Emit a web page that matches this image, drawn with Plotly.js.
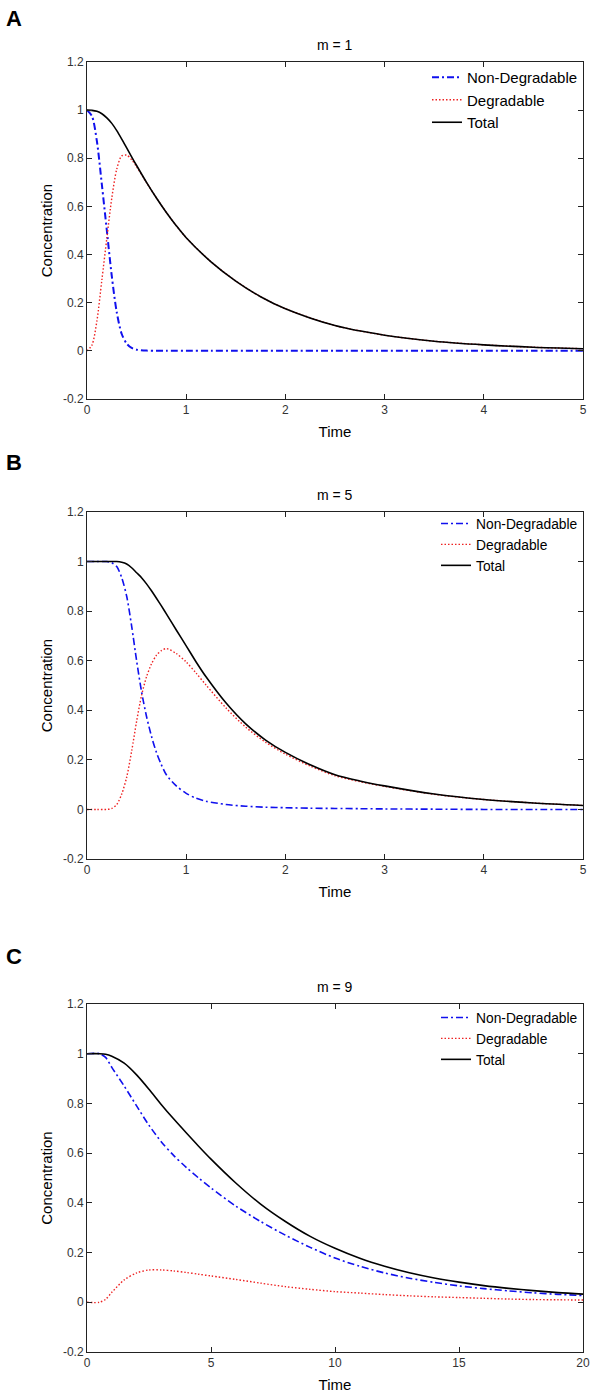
<!DOCTYPE html>
<html>
<head>
<meta charset="utf-8">
<script src="https://cdn.plot.ly/plotly-3.0.1.min.js"></script>
<style>html,body{margin:0;padding:0;background:#fff;}#chart{width:592px;height:1394px;}</style>
</head>
<body>
<div id="chart"></div>
<script>
// ---------- data ----------
const seriesNames = ['Non-Degradable', 'Degradable', 'Total'];
const panelTitles = ['m = 1', 'm = 5', 'm = 9'];
const panelLetters = ['A', 'B', 'C'];

// Panel A (m = 1)
const timeA = [0,0.05,0.1,0.15,0.2,0.25,0.3,0.35,0.4,0.45,0.5,0.6,0.7,0.8,0.9,1,1.25,1.5,1.75,2,2.5,3,3.5,4,4.5,5];
const nonDegA = [1,0.975,0.87,0.69,0.5,0.31,0.16,0.07,0.03,0.012,0.005,0.001,0,0,0,0,0,0,0,0,0,0,0,0,0,0];
const degA = [0,0.024,0.125,0.295,0.468,0.635,0.755,0.81,0.813,0.794,0.765,0.699,0.635,0.575,0.52,0.47,0.37,0.29,0.225,0.175,0.105,0.065,0.04,0.025,0.015,0.009];
const totalA = [1,0.999,0.995,0.985,0.968,0.945,0.915,0.88,0.843,0.806,0.77,0.7,0.635,0.575,0.52,0.47,0.37,0.29,0.225,0.175,0.105,0.065,0.04,0.025,0.015,0.009];

// Panel B (m = 5)
const timeB = [0,0.1,0.2,0.25,0.3,0.35,0.4,0.45,0.5,0.55,0.6,0.65,0.7,0.75,0.8,0.9,1.0,1.1,1.2,1.4,1.6,1.8,2.0,2.25,2.5,2.75,3,3.5,4,4.5,5];
const nonDegB = [1,1,1,0.995,0.98,0.935,0.86,0.74,0.6,0.475,0.375,0.295,0.23,0.18,0.14,0.095,0.065,0.045,0.033,0.02,0.013,0.009,0.007,0.005,0.004,0.003,0.002,0.001,0,0,0];
const degB = [0,0,0,0.004,0.02,0.062,0.13,0.235,0.355,0.46,0.535,0.587,0.622,0.641,0.649,0.629,0.595,0.55,0.502,0.41,0.332,0.271,0.223,0.175,0.136,0.112,0.093,0.061,0.04,0.026,0.016];
const totalB = [1,1,1,1,1,0.997,0.99,0.975,0.955,0.935,0.91,0.882,0.852,0.821,0.789,0.724,0.66,0.595,0.535,0.43,0.345,0.28,0.23,0.18,0.14,0.115,0.095,0.062,0.04,0.026,0.016];

// Panel C (m = 9)
const timeC = [0,0.5,0.75,1,1.5,2,2.5,3,3.5,4,4.5,5,6,7,8,9,10,11,12,13,14,15,16,17,18,19,20];
const nonDegC = [1,1,0.985,0.945,0.87,0.79,0.712,0.645,0.59,0.543,0.5,0.46,0.387,0.325,0.27,0.221,0.178,0.145,0.118,0.097,0.08,0.066,0.055,0.046,0.038,0.032,0.027];
const degC = [0,0,0.012,0.04,0.09,0.118,0.13,0.13,0.126,0.12,0.113,0.106,0.092,0.077,0.063,0.052,0.043,0.037,0.031,0.026,0.022,0.019,0.016,0.013,0.011,0.01,0.009];
const totalC = [1,1,0.998,0.99,0.962,0.915,0.857,0.795,0.737,0.682,0.628,0.576,0.48,0.395,0.325,0.265,0.217,0.177,0.145,0.119,0.098,0.081,0.067,0.056,0.047,0.039,0.033];

// axis ticks
const yTickVals = [-0.2,0,0.2,0.4,0.6,0.8,1,1.2];
const yTickText = ['-0.2','0','0.2','0.4','0.6','0.8','1','1.2'];
const xTickValsAB = [0,1,2,3,4,5];
const xTickTextAB = ['0','1','2','3','4','5'];
const xTickValsC = [0,5,10,15,20];
const xTickTextC = ['0','5','10','15','20'];
const xLabel = 'Time';
const yLabel = 'Concentration';

// ---------- layout helpers ----------
const W = 592, H = 1394;
const M = {l: 87, r: 9, t: 62, b: 42};
const paperH = H - M.t - M.b;
const py = p => (H - M.b - p) / paperH;          // pixel y -> paper y
const FONT = '"Liberation Sans", Arial, Helvetica, sans-serif';

const panels = [
  {t: timeA, n: nonDegA, d: degA, tot: totalA, top: 62,   bot: 399,  xr: [0,5],  tv: xTickValsAB, tt: xTickTextAB, lw: 2.0, lf: 15, legTop: 61},
  {t: timeB, n: nonDegB, d: degB, tot: totalB, top: 512,  bot: 859,  xr: [0,5],  tv: xTickValsAB, tt: xTickTextAB, lw: 1.6, lf: 13.8, legTop: 508},
  {t: timeC, n: nonDegC, d: degC, tot: totalC, top: 1004, bot: 1352, xr: [0,20], tv: xTickValsC,  tt: xTickTextC,  lw: 1.6, lf: 13.8, legTop: 1002}
];

const traces = [];
const layout = {
  width: W, height: H,
  margin: {l: M.l, r: M.r, t: M.t, b: M.b},
  paper_bgcolor: '#fff', plot_bgcolor: '#fff',
  font: {family: FONT, color: '#000'},
  annotations: [],
  showlegend: true
};

panels.forEach((p, i) => {
  const k = i === 0 ? '' : String(i + 1);
  const xa = 'x' + k, ya = 'y' + k;
  const leg = 'legend' + k;
  traces.push({x: p.t, y: p.n, name: seriesNames[0], type: 'scatter', mode: 'lines', xaxis: xa, yaxis: ya, legend: leg,
    line: {color: '#1010ee', width: p.lw, dash: '7px,3px,2px,3px', shape: 'spline', smoothing: 0.8}});
  traces.push({x: p.t, y: p.d, name: seriesNames[1], type: 'scatter', mode: 'lines', xaxis: xa, yaxis: ya, legend: leg,
    line: {color: '#ee2222', width: 1.4, dash: '1.5px,2px', shape: 'spline', smoothing: 0.8}});
  traces.push({x: p.t, y: p.tot, name: seriesNames[2], type: 'scatter', mode: 'lines', xaxis: xa, yaxis: ya, legend: leg,
    line: {color: '#000', width: 1.6, shape: 'spline', smoothing: 0.8}});

  const axCommon = {
    showline: true, linecolor: '#222', linewidth: 1, mirror: 'ticks',
    ticks: 'inside', ticklen: 5, tickcolor: '#222', tickwidth: 1,
    showgrid: false, zeroline: false, fixedrange: true,
    tickfont: {family: FONT, size: 12, color: '#333'}
  };
  layout['xaxis' + k] = Object.assign({}, axCommon, {
    anchor: ya, domain: [0, 1], range: p.xr, tickmode: 'array', tickvals: p.tv, ticktext: p.tt,
    title: {text: xLabel, font: {family: FONT, size: 15, color: '#000'}, standoff: 10}
  });
  layout['yaxis' + k] = Object.assign({}, axCommon, {
    anchor: xa, domain: [py(p.bot), py(p.top)], range: [-0.2, 1.2], tickmode: 'array', tickvals: yTickVals, ticktext: yTickText,
    title: {text: yLabel, font: {family: FONT, size: 15, color: '#000'}, standoff: 6}
  });
  layout[leg] = {
    x: 1, xanchor: 'right', y: py(p.legTop), yanchor: 'top',
    bgcolor: 'rgba(0,0,0,0)', borderwidth: 0,
    font: {family: FONT, size: p.lf, color: '#000'},
    tracegroupgap: 0, itemwidth: 30
  };
  layout.annotations.push({
    text: panelTitles[i], xref: 'paper', yref: 'paper', x: 0.5, y: py(p.top - 17),
    xanchor: 'center', yanchor: 'middle', showarrow: false,
    font: {family: FONT, size: 14, color: '#000'}
  });
  layout.annotations.push({
    text: '<b>' + panelLetters[i] + '</b>', xref: 'paper', yref: 'paper',
    x: (14 - M.l) / (W - M.l - M.r), y: py(p.top - (i === 0 ? 44 : i === 1 ? 49 : 48)),
    xanchor: 'center', yanchor: 'middle', showarrow: false,
    font: {family: FONT, size: 22, color: '#000'}
  });
});

Plotly.newPlot('chart', traces, layout, {staticPlot: true, displayModeBar: false});
</script>
</body>
</html>
